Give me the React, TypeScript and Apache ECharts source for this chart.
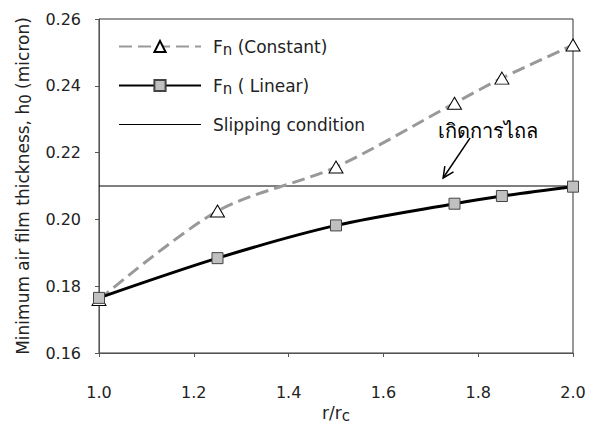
import React, { useEffect, useRef } from "react";
import * as echarts from "echarts";

const xValues = [1.0, 1.25, 1.5, 1.75, 1.85, 2.0];
const constantValues = [0.176, 0.2025, 0.2157, 0.2348, 0.2423, 0.2522];
const linearValues = [0.1765, 0.1884, 0.1982, 0.2047, 0.2070, 0.2098];
const slipX = [1.0, 2.0];
const slipValue = 0.21;
const annotationText = "เกิดการไถล";
const arrowStart = [1.783, 0.2244];
const arrowEnd = [1.726, 0.2124];

const FONT = "'DejaVu Sans', 'Noto Sans', sans-serif";

export default function App() {
  const ref = useRef<HTMLDivElement>(null);
  useEffect(() => {
    if (!ref.current) return;
    const chart = echarts.init(ref.current, undefined, { renderer: "svg" });
    const textColor = "#222";
    const axisColor = "#555";
    const rich = {
      t: { fontSize: 17, color: textColor, fontFamily: FONT },
      s: { fontSize: 15, color: textColor, fontFamily: FONT, verticalAlign: "bottom", padding: [6, 0, 0, 0] },
      p: { width: 7 },
    };
    chart.setOption({
      animation: false,
      grid: { left: 99, right: 22, top: 19, bottom: 81, show: true, borderColor: "#333", borderWidth: 1 },
      legend: {
        orient: "vertical",
        left: 113,
        top: 33,
        itemWidth: 82,
        itemHeight: 14,
        itemGap: 20,
        data: [
          { name: "const" },
          { name: "linear" },
          { name: "slip", icon: "path://M0,0 H82 V1 H0 Z" },
        ],
        formatter: (name: string) => {
          if (name === "const") return "{p|}{t|F}{s|n}{t| (Constant)}";
          if (name === "linear") return "{p|}{t|F}{s|n}{t| ( Linear)}";
          return "{p|}{t|Slipping condition}";
        },
        textStyle: { rich },
      },
      xAxis: {
        type: "value",
        min: 1,
        max: 2,
        interval: 0.2,
        name: "{t|r/r}{s|c}",
        nameLocation: "middle",
        nameGap: 48,
        nameTextStyle: { rich },
        axisLine: { lineStyle: { color: axisColor } },
        axisTick: { show: true, length: 4, lineStyle: { color: axisColor } },
        axisLabel: { fontSize: 16, color: textColor, fontFamily: FONT, margin: 31, formatter: (v: number) => v.toFixed(1) },
        splitLine: { show: false },
      },
      yAxis: {
        type: "value",
        min: 0.16,
        max: 0.26,
        interval: 0.02,
        name: "{t|Minimum air film thickness, h}{s|0}{t| (micron)}",
        nameLocation: "middle",
        nameGap: 66,
        nameTextStyle: { rich },
        axisLine: { show: true, lineStyle: { color: axisColor } },
        axisTick: { show: true, length: 4, lineStyle: { color: axisColor } },
        axisLabel: { fontSize: 16, color: textColor, fontFamily: FONT, margin: 18, formatter: (v: number) => v.toFixed(2) },
        splitLine: { show: false },
      },
      series: [
        {
          name: "slip",
          type: "line",
          data: slipX.map((x) => [x, slipValue]),
          symbol: "none",
          lineStyle: { color: "#000", width: 1 },
          itemStyle: { color: "#000" },
          z: 1,
        },
        {
          name: "const",
          type: "line",
          data: xValues.map((x, i) => [x, constantValues[i]]),
          smooth: 0.3,
          symbol: "triangle",
          symbolSize: [14, 12],
          showAllSymbol: true,
          lineStyle: { color: "#999", width: 3, type: [13, 6] },
          itemStyle: { color: "#fff", borderColor: "#000", borderWidth: 1 },
          z: 2,
        },
        {
          name: "linear",
          type: "line",
          data: xValues.map((x, i) => [x, linearValues[i]]),
          smooth: 0.3,
          symbol: "rect",
          symbolSize: 11,
          lineStyle: { color: "#000", width: 3 },
          itemStyle: { color: "#c0c0c0", borderColor: "#444", borderWidth: 1 },
          z: 3,
        },
      ],
    });
    const s = chart.convertToPixel({ gridIndex: 0 }, arrowStart) as number[];
    const e = chart.convertToPixel({ gridIndex: 0 }, arrowEnd) as number[];
    const ang = Math.atan2(e[1] - s[1], e[0] - s[0]);
    const hl = 12;
    const spread = 0.45;
    const p1 = [e[0] - hl * Math.cos(ang - spread), e[1] - hl * Math.sin(ang - spread)];
    const p2 = [e[0] - hl * Math.cos(ang + spread), e[1] - hl * Math.sin(ang + spread)];
    chart.setOption({
      graphic: [
        {
          type: "text",
          x: s[0] - 32,
          y: s[1] + 3,
          style: { text: annotationText, fontSize: 20, fontFamily: FONT, fill: "#000", textVerticalAlign: "bottom" },
        },
        { type: "line", shape: { x1: s[0], y1: s[1], x2: e[0], y2: e[1] }, style: { stroke: "#000", lineWidth: 1.5 } },
        { type: "polyline", shape: { points: [p1, e, p2] }, style: { stroke: "#000", lineWidth: 1.5, fill: null } },
      ],
    });
    return () => chart.dispose();
  }, []);
  return <div ref={ref} style={{ width: 595, height: 434, marginLeft: -8, marginTop: -8 }} />;
}
